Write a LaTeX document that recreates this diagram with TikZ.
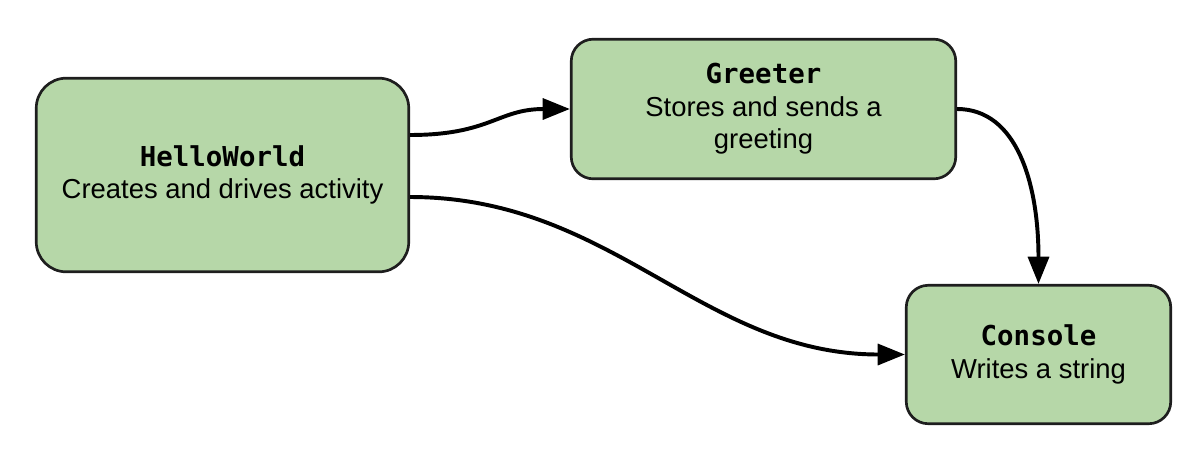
\documentclass[tikz,border=0pt]{standalone}
\usepackage{fontspec}
\setmainfont{Liberation Sans}
\setmonofont{DejaVu Sans Mono}
\usetikzlibrary{arrows.meta}
\definecolor{boxgreen}{HTML}{B6D7A8}
\definecolor{boxline}{HTML}{1E1E1E}
\tikzset{
        actor/.style={draw=boxline, fill=boxgreen, line width=1.9pt, rounded corners=0.55cm,
                align=center, inner sep=0pt, font=\fontsize{19.5pt}{23pt}\selectfont},
        msg/.style={black, line width=2.8pt, -{Triangle[length=0.68cm,width=0.52cm]}}
}
\newcommand{\clsname}[1]{\texttt{\textbf{#1}}}

\begin{document}
\begin{tikzpicture}[x=0.025cm,y=-0.025cm]
        \useasboundingbox (0,0) rectangle (1198,455);
        \node[actor, minimum width=9.31cm, minimum height=4.84cm, rounded corners=0.75cm] (hello) at (222.5,175)
                {\clsname{HelloWorld}\\Creates and drives activity};
        \node[actor, minimum width=9.61cm, minimum height=3.49cm] (greeter) at (763.5,109)
                {\clsname{Greeter}\\Stores and sends a\\greeting};
        \node[actor, minimum width=6.61cm, minimum height=3.46cm] (console) at (1038.5,354.5)
                {\clsname{Console}\\Writes a string};
        % messages
        \draw[msg] ([yshift=1cm]hello.east) .. controls +(2cm,0) and +(-1.8cm,0) .. (greeter.west);
        \draw[msg] ([yshift=-0.55cm]hello.east) to[out=0, in=180] (console.west);
        \draw[msg] (greeter.east) .. controls +(1.5cm,0) and +(0,2.5cm) .. (console.north);
\end{tikzpicture}
\end{document}
